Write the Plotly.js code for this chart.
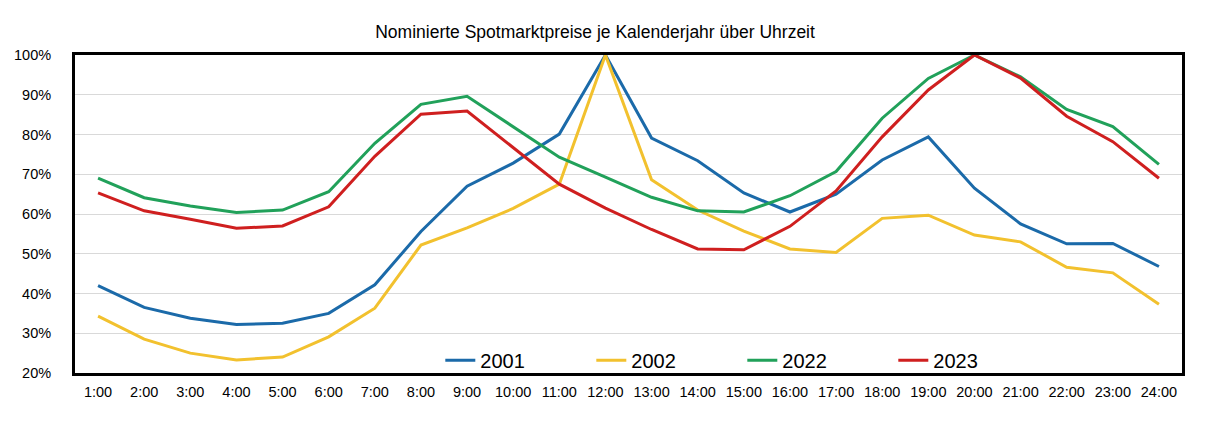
<!DOCTYPE html>
<html>
<head>
<meta charset="utf-8">
<script src="https://cdn.plot.ly/plotly-3.0.1.min.js"></script>
<style>
    html, body { margin: 0; padding: 0; background: #fff; }
    #chart { width: 1207px; height: 425px; }
</style>
</head>
<body>
<div id="chart"></div>
<script>
// Hours of the day (x categories)
const hours = ['1:00', '2:00', '3:00', '4:00', '5:00', '6:00', '7:00', '8:00', '9:00', '10:00', '11:00', '12:00',
    '13:00', '14:00', '15:00', '16:00', '17:00', '18:00', '19:00', '20:00', '21:00', '22:00', '23:00', '24:00'];

// Normalised spot prices in percent of the daily maximum
const prices2001 = [42.0, 36.5, 33.8, 32.2, 32.5, 35.0, 42.2, 55.6, 67.0, 72.8, 80.1, 100,
    79.1, 73.4, 65.3, 60.5, 65.0, 73.6, 79.4, 66.5, 57.5, 52.5, 52.6, 46.8];
const prices2002 = [34.3, 28.5, 25.0, 23.3, 24.0, 29.1, 36.3, 52.2, 56.5, 61.4, 67.5, 100,
    68.6, 61.0, 55.7, 51.2, 50.3, 58.9, 59.7, 54.7, 53.0, 46.6, 45.2, 37.3];
const prices2022 = [69.0, 64.1, 62.0, 60.4, 61.0, 65.6, 77.8, 87.6, 89.6, 81.9, 74.3, 69.3,
    64.2, 60.8, 60.5, 64.6, 70.7, 84.1, 94.1, 100, 94.5, 86.3, 82.0, 72.5];
const prices2023 = [65.3, 60.8, 58.7, 56.4, 57.0, 61.8, 74.5, 85.1, 85.9, 76.8, 67.5, 61.5,
    56.1, 51.2, 51.0, 56.9, 65.8, 79.4, 91.2, 100, 94.2, 84.6, 78.2, 69.0];

const years = ['2001', '2002', '2022', '2023'];
const seriesValues = [prices2001, prices2002, prices2022, prices2023];
const seriesColors = ['#1b6aa9', '#f2c12e', '#21a15a', '#cf1f1f'];

let data = [];
for (let i in years) {
    data.push({
        x: hours,
        y: seriesValues[i],
        name: years[i],
        type: 'scatter',
        mode: 'lines',
        line: {
            color: seriesColors[i],
            width: 3
        },
        hovertemplate: '%{y:.1f}%'
    });
}

// Layout of the chart
let layout = {
    width: 1207,
    height: 425,
    paper_bgcolor: '#fff',
    plot_bgcolor: '#fff',
    font: {
        family: 'Liberation Sans, Arial, sans-serif',
        color: '#000'
    },
    title: {
        text: 'Nominierte Spotmarktpreise je Kalenderjahr über Uhrzeit',
        font: { size: 17.5, color: '#000' },
        x: 0.493,
        xanchor: 'center',
        y: 0.925,
        yanchor: 'middle'
    },
    showlegend: true,
    legend: {
        orientation: 'h',
        x: 0.33,
        xanchor: 'left',
        y: 0.04,
        yanchor: 'middle',
        bgcolor: 'rgba(0,0,0,0)',
        font: { size: 20, color: '#000' },
        entrywidth: 106,
        entrywidthmode: 'pixels',
        itemwidth: 30,
        traceorder: 'normal'
    },
    xaxis: {
        type: 'category',
        range: [-0.5, 23.5],
        showgrid: false,
        zeroline: false,
        showline: true,
        mirror: true,
        linecolor: '#000',
        linewidth: 3,
        ticks: '',
        ticklabelstandoff: 4,
        tickfont: { size: 14.5, color: '#000' }
    },
    yaxis: {
        range: [20, 100],
        dtick: 10,
        ticksuffix: '%',
        showgrid: true,
        gridcolor: '#d9d9d9',
        gridwidth: 1,
        zeroline: false,
        showline: true,
        mirror: true,
        linecolor: '#000',
        linewidth: 3,
        ticks: '',
        ticklabelstandoff: 18,
        tickfont: { size: 14.5, color: '#000' }
    },
    margin: {
        l: 75,
        r: 25,
        t: 55,
        b: 52
    }
};

// General chart configuration
let config = {
    displayModeBar: false,
    responsive: false
};

let htmlElement = document.getElementById('chart');
Plotly.newPlot(htmlElement, data, layout, config);
</script>
</body>
</html>
